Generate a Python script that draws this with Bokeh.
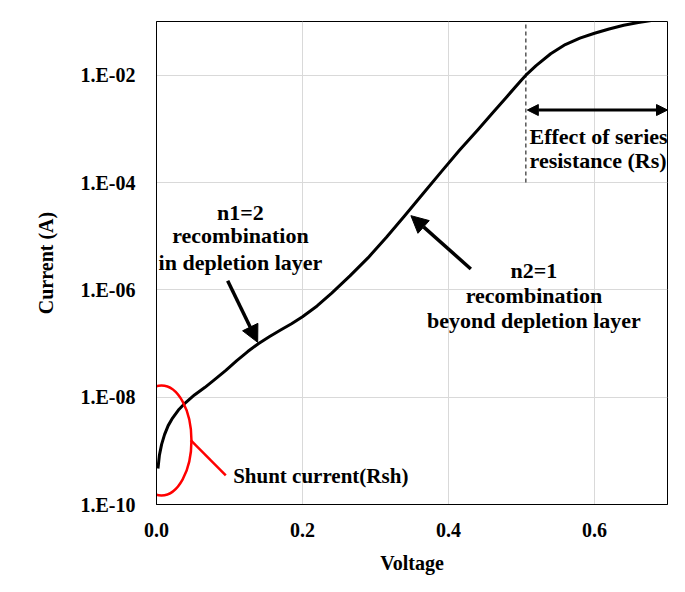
from bokeh.plotting import figure
from bokeh.models import FixedTicker, Arrow, NormalHead
from bokeh.core.properties import value
from bokeh.embed import file_html
from bokeh.resources import INLINE

# ---- data ----
voltage = [0.002, 0.004, 0.007, 0.011, 0.016, 0.022, 0.030, 0.040, 0.052, 0.066,
           0.080, 0.095, 0.110, 0.125, 0.140, 0.155, 0.170, 0.185, 0.200, 0.220,
           0.240, 0.265, 0.290, 0.315, 0.340, 0.365, 0.390, 0.415, 0.440, 0.460,
           0.480, 0.500, 0.506, 0.520, 0.540, 0.560, 0.580, 0.600, 0.620, 0.640,
           0.660, 0.680, 0.700]
current = [4.68e-10, 8.32e-10, 1.32e-9, 2.00e-9, 2.95e-9, 4.07e-9, 5.75e-9, 7.94e-9, 1.10e-8, 1.51e-8,
           2.14e-8, 3.16e-8, 4.79e-8, 7.08e-8, 1.00e-7, 1.35e-7, 1.78e-7, 2.34e-7, 3.16e-7, 5.01e-7,
           8.71e-7, 1.82e-6, 3.98e-6, 9.55e-6, 2.40e-5, 6.17e-5, 1.58e-4, 3.98e-4, 9.55e-4, 1.95e-3,
           3.98e-3, 8.13e-3, 1.00e-2, 1.51e-2, 2.51e-2, 3.72e-2, 4.90e-2, 6.03e-2, 7.24e-2, 8.51e-2,
           9.55e-2, 1.05e-1, 1.12e-1]

x_ticks = [0.0, 0.2, 0.4, 0.6]
x_tick_labels = ["0.0", "0.2", "0.4", "0.6"]
y_ticks = [1e-10, 1e-8, 1e-6, 1e-4, 1e-2]
y_tick_labels = ["1.E-10", "1.E-08", "1.E-06", "1.E-04", "1.E-02"]

# annotations
label_texts = ["n1=2", "recombination", "in depletion layer",
               "n2=1", "recombination", "beyond depletion layer"]
label_x = [0.115, 0.115, 0.115, 0.517, 0.517, 0.517]
label_y = [2.77e-5, 1.02e-5, 3.25e-6, 2.28e-6, 7.80e-7, 2.67e-7]

rs_texts = ["Effect of series", "resistance (Rs)"]
rs_x = [0.511, 0.511]
rs_y = [7.13e-4, 2.55e-4]

shunt_text = ["Shunt current(Rsh)"]
shunt_x = [0.105]
shunt_y = [3.37e-10]

FONT = "Liberation Serif"

p = figure(width=677, height=584, x_range=(0, 0.7), y_range=(1e-10, 1e-1),
           y_axis_type="log", output_backend="svg", toolbar_location=None,
           min_border_left=156, min_border_right=10, min_border_top=21,
           min_border_bottom=80)

p.background_fill_color = "white"
p.border_fill_color = "white"
p.outline_line_color = "black"
p.outline_line_width = 1

# axes
p.xaxis.ticker = FixedTicker(ticks=x_ticks)
p.xaxis.major_label_overrides = dict(zip(x_ticks, x_tick_labels))
p.yaxis.ticker = FixedTicker(ticks=y_ticks)
p.yaxis.major_label_overrides = dict(zip(y_ticks, y_tick_labels))

for ax in (p.xaxis[0], p.yaxis[0]):
    ax.major_tick_line_color = None
    ax.minor_tick_line_color = None
    ax.major_tick_out = 0
    ax.major_tick_in = 0
    ax.axis_line_color = "black"
    ax.major_label_text_font = FONT
    ax.major_label_text_font_style = "bold"
    ax.major_label_text_font_size = "20px"
    ax.major_label_text_color = "black"
    ax.axis_label_text_font = FONT
    ax.axis_label_text_font_style = "bold"
    ax.axis_label_text_font_size = "20px"
    ax.axis_label_text_color = "black"

p.xaxis.axis_label = "Voltage"
p.yaxis.axis_label = "Current (A)"
p.xaxis.major_label_standoff = 18
p.xaxis.axis_label_standoff = 12
p.yaxis.major_label_standoff = 21
p.yaxis.axis_label_standoff = 21

p.xgrid.ticker = FixedTicker(ticks=x_ticks)
p.ygrid.ticker = FixedTicker(ticks=y_ticks)
p.xgrid.grid_line_color = "#d9d9d9"
p.ygrid.grid_line_color = "#d9d9d9"
p.xgrid.grid_line_width = 1
p.ygrid.grid_line_width = 1

# dashed marker at series-resistance onset
p.line([0.506, 0.506], [1e-4, 1e-1], line_color="black", line_width=1, line_dash="4 3")

# I-V curve
p.line(voltage, current, line_color="black", line_width=3, line_join="round")

# shunt region ellipse and leader
p.ellipse(x=[0.0068], y=[1.556e-9], width=60, height=110, width_units="screen",
          height_units="screen", fill_color=None, line_color="#ff0000", line_width=2.5)
p.line([0.0468, 0.0949], [1.58e-9, 3.50e-10], line_color="#ff0000", line_width=2.5)

# arrows
p.add_layout(Arrow(end=NormalHead(size=17, fill_color="black", line_color="black"),
                   x_start=0.0975, y_start=1.48e-6, x_end=0.1386, y_end=1.05e-7,
                   line_width=3.5, line_color="black"))
p.add_layout(Arrow(end=NormalHead(size=17, fill_color="black", line_color="black"),
                   x_start=0.4306, y_start=2.45e-6, x_end=0.3485, y_end=2.41e-5,
                   line_width=3.5, line_color="black"))
p.add_layout(Arrow(start=NormalHead(size=11, fill_color="black", line_color="black"),
                   end=NormalHead(size=11, fill_color="black", line_color="black"),
                   x_start=0.508, y_start=2.24e-3, x_end=0.700, y_end=2.24e-3,
                   line_width=3, line_color="black"))

# texts
p.text(x=label_x, y=label_y, text=label_texts, text_font=value(FONT),
       text_font_style="bold", text_font_size="22px", text_align="center",
       text_baseline="middle", text_color="black")
p.text(x=rs_x, y=rs_y, text=rs_texts, text_font=value(FONT),
       text_font_style="bold", text_font_size="22px", text_align="left",
       text_baseline="middle", text_color="black")
p.text(x=shunt_x, y=shunt_y, text=shunt_text, text_font=value(FONT),
       text_font_style="bold", text_font_size="21px", text_align="left",
       text_baseline="middle", text_color="black")

open("out.html", "w").write(file_html(p, INLINE))
